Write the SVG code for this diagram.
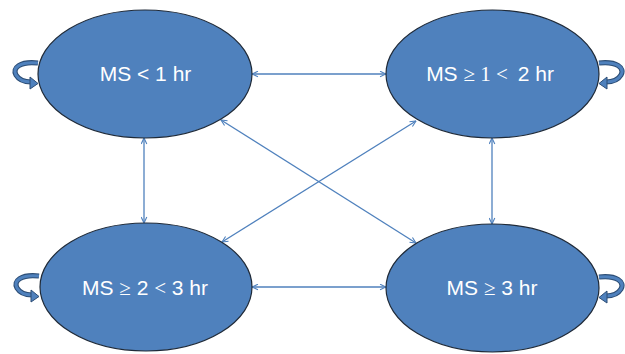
<svg xmlns="http://www.w3.org/2000/svg" width="625" height="354" viewBox="0 0 625 354">
<style>
.node{fill:#4F81BD;stroke:#1f2a38;stroke-width:1.2}
.lbl{font-family:"Liberation Sans",Arial,sans-serif;font-size:21px;fill:#ffffff;text-anchor:middle}
.ser{font-family:"Liberation Serif","Times New Roman",serif}
.conn{stroke:#4F81BD;stroke-width:1.3;fill:none;marker-start:url(#ah);marker-end:url(#ah)}
.loopO{stroke:#2c4d75;stroke-width:5.2;fill:none}
.loopI{stroke:#4F81BD;stroke-width:3;fill:none}
.head{fill:#4F81BD;stroke:#2c4d75;stroke-width:1}
</style>
<defs>
<marker id="ah" viewBox="0 0 10 10" refX="9.5" refY="5" markerWidth="7" markerHeight="7" markerUnits="userSpaceOnUse" orient="auto-start-reverse">
<path d="M1,1 L9.5,5 L1,9" fill="none" stroke="#4F81BD" stroke-width="1.6"/>
</marker>
<g id="loopL">
<path class="loopO" d="M38,63 C20,61 12,68 16,75 C19,80 25,82 31,82"/>
<path class="loopI" d="M38,63 C20,61 12,68 16,75 C19,80 25,82 31,82"/>
<polygon class="head" points="30,77 38,83.5 30,89"/>
</g>
</defs>
<g id="connectors">
<line class="conn" x1="252" y1="74" x2="386" y2="74"/>
<line class="conn" x1="252" y1="287" x2="386" y2="287"/>
<line class="conn" x1="144" y1="138" x2="144" y2="223"/>
<line class="conn" x1="492" y1="138" x2="492" y2="224"/>
<line class="conn" x1="221" y1="120" x2="416" y2="243"/>
<line class="conn" x1="416" y1="121" x2="222" y2="242"/>
</g>
<g id="n1">
<use href="#loopL"/>
<ellipse class="node" cx="145" cy="74" rx="107" ry="64"/>
<text class="lbl" x="145.5" y="81">MS &lt; 1 hr</text>
</g>
<g id="n2">
<use href="#loopL" transform="translate(637,0) scale(-1,1)"/>
<ellipse class="node" cx="492.5" cy="74" rx="106.5" ry="64"/>
<text class="lbl" x="490" y="81">MS <tspan class="ser">≥ 1 &lt;</tspan> <tspan dx="4">2 hr</tspan></text>
</g>
<g id="n3">
<use href="#loopL" transform="translate(1,213)"/>
<ellipse class="node" cx="146" cy="287" rx="106" ry="64"/>
<text class="lbl" x="145" y="295">MS <tspan class="ser">≥</tspan> 2 <tspan class="ser">&lt;</tspan> 3 hr</text>
</g>
<g id="n4">
<use href="#loopL" transform="translate(637,214) scale(-1,1)"/>
<ellipse class="node" cx="492.5" cy="288" rx="106.5" ry="64"/>
<text class="lbl" x="492" y="295">MS <tspan class="ser">≥</tspan> 3 hr</text>
</g>
</svg>
